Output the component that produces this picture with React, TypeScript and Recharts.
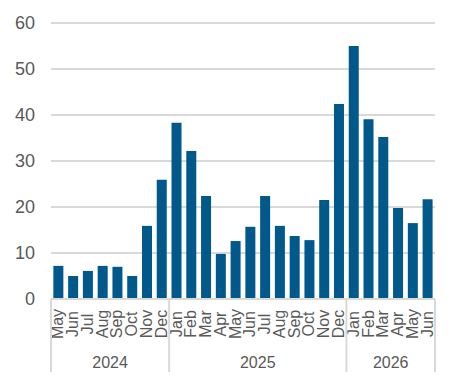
import React from 'react';
import { BarChart, Bar, XAxis, YAxis, CartesianGrid } from 'recharts';

// monthly counts, May 2024 – Jun 2026
const months = [
  'May', 'Jun', 'Jul', 'Aug', 'Sep', 'Oct', 'Nov', 'Dec',
  'Jan', 'Feb', 'Mar', 'Apr', 'May', 'Jun', 'Jul', 'Aug', 'Sep', 'Oct', 'Nov', 'Dec',
  'Jan', 'Feb', 'Mar', 'Apr', 'May', 'Jun',
];
const years = [
  '2024', '2024', '2024', '2024', '2024', '2024', '2024', '2024',
  '2025', '2025', '2025', '2025', '2025', '2025', '2025', '2025', '2025', '2025', '2025', '2025',
  '2026', '2026', '2026', '2026', '2026', '2026',
];
const values = [
  7.2, 5.0, 6.1, 7.2, 7.0, 5.0, 15.9, 25.9,
  38.3, 32.2, 22.4, 9.8, 12.6, 15.7, 22.4, 15.9, 13.7, 12.8, 21.5, 42.4,
  55.0, 39.1, 35.2, 19.8, 16.5, 21.7,
];
const yTicks = [0, 10, 20, 30, 40, 50, 60];

const data = months.map((m, i) => ({ key: `${m}-${years[i]}`, month: m, year: years[i], value: values[i] }));

const TEXT = '#595959';
const LINE = '#d9d9d9';
const FONT = '"Liberation Sans", Arial, sans-serif';

function MonthTick(props: any) {
  const { x, y, index, payload } = props;
  const half = payload?.offset || 384 / 26 / 2;
  const first = index === 0 || years[index] !== years[index - 1];
  const last = index === years.length - 1;
  let groupLen = 0;
  if (first) {
    let j = index;
    while (j < years.length && years[j] === years[index]) j++;
    groupLen = j - index;
  }
  return (
    <g>
      <g transform={`translate(${x},${y + 25}) rotate(-90)`}>
        <text
          x={0}
          y={5}
          textAnchor="middle"
          fontSize={16}
          fill={TEXT}
          fontFamily={FONT}
        >
          {months[index]}
        </text>
      </g>
      {first && (
        <>
          <line x1={x - half} x2={x - half} y1={y} y2={y + 73} stroke={LINE} strokeWidth={2} />
          <text
            x={x - half + groupLen * half}
            y={y + 69}
            textAnchor="middle"
            fontSize={16}
            fill={TEXT}
            fontFamily={FONT}
          >
            {years[index]}
          </text>
        </>
      )}
      {last && <line x1={x + half} x2={x + half} y1={y} y2={y + 73} stroke={LINE} strokeWidth={2} />}
    </g>
  );
}

export default function App() {
  return (
    <div style={{ position: 'absolute', left: 0, top: 0, width: 458, height: 384, background: '#fff' }}>
      <BarChart
        width={458}
        height={384}
        data={data}
        margin={{ top: 23, right: 23, bottom: 0, left: 0 }}
        barCategoryGap="16%"
      >
        <CartesianGrid vertical={false} stroke={LINE} strokeWidth={2} />
        <XAxis
          dataKey="key"
          interval={0}
          height={85}
          tickLine={false}
          tickSize={0}
          tickMargin={0}
          axisLine={{ stroke: LINE, strokeWidth: 2 }}
          tick={<MonthTick />}
        />
        <YAxis
          width={51}
          domain={[0, 60]}
          ticks={yTicks}
          axisLine={false}
          tickLine={false}
          tickSize={0}
          tickMargin={16}
          tick={{ fill: TEXT, fontSize: 18, fontFamily: FONT }}
        />
        <Bar dataKey="value" fill="#00588b" isAnimationActive={false} />
      </BarChart>
    </div>
  );
}
